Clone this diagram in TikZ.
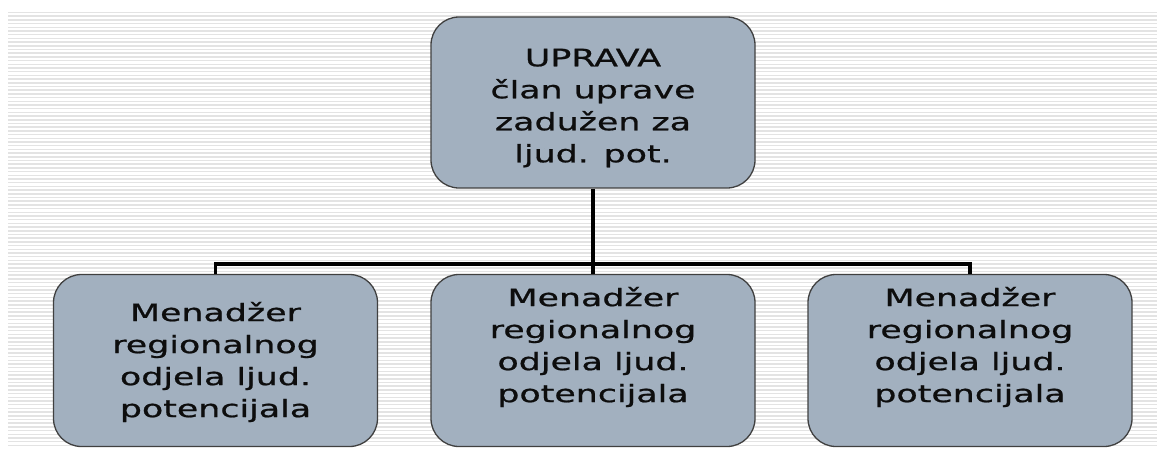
\documentclass[tikz,border=0pt]{standalone}
\usepackage{fontspec}
\setmainfont[FakeStretch=1.45,FakeBold=0.8]{DejaVu Sans}
\definecolor{boxfill}{HTML}{A2B0BF}
\definecolor{boxline}{HTML}{404040}
\definecolor{stripe}{HTML}{E3E3E3}
\definecolor{txtcol}{HTML}{0D0D0D}
\begin{document}
\begin{tikzpicture}[x=1pt,y=1pt,
  orgbox/.style={draw=boxline,line width=1.3pt,fill=boxfill,rounded corners=28pt,
    minimum width=324pt,minimum height=172pt,inner sep=0pt},
  boxtext/.style={align=center,inner sep=0pt,text=txtcol,
    font=\fontsize{24}{32}\selectfont},
  conn/.style={draw=black,line width=3.2pt}]
\useasboundingbox (0,0) rectangle (1157,-448);
% striped background
\foreach \k in {0,...,117}{
  \draw[stripe,line width=1.5pt] (8,-12.5-3.7*\k) -- (1157,-12.5-3.7*\k);
}
% boxes
\node[orgbox,minimum height=171pt] (top) at (593,-102.5) {};
\node[orgbox] (lb) at (215.5,-360.5) {};
\node[orgbox] (mb) at (593,-360.5) {};
\node[orgbox] (rb) at (970,-360.5) {};
% texts
\node[boxtext] (toptxt) at (593,-108) {UPRAVA\\član uprave\\zadužen za\\ljud. pot.};
\node[boxtext] (lbtxt) at (215.5,-362) {Menadžer\\regionalnog\\odjela ljud.\\potencijala};
\node[boxtext] (mbtxt) at (593,-347) {Menadžer\\regionalnog\\odjela ljud.\\potencijala};
\node[boxtext] (rbtxt) at (970,-347) {Menadžer\\regionalnog\\odjela ljud.\\potencijala};
% connectors
\coordinate (bus) at (593,-264);
\draw[conn] (top.south) -- (bus) -- (mb.north);
\draw[conn] (lb.north) |- (bus) -| (rb.north);
\end{tikzpicture}
\end{document}
